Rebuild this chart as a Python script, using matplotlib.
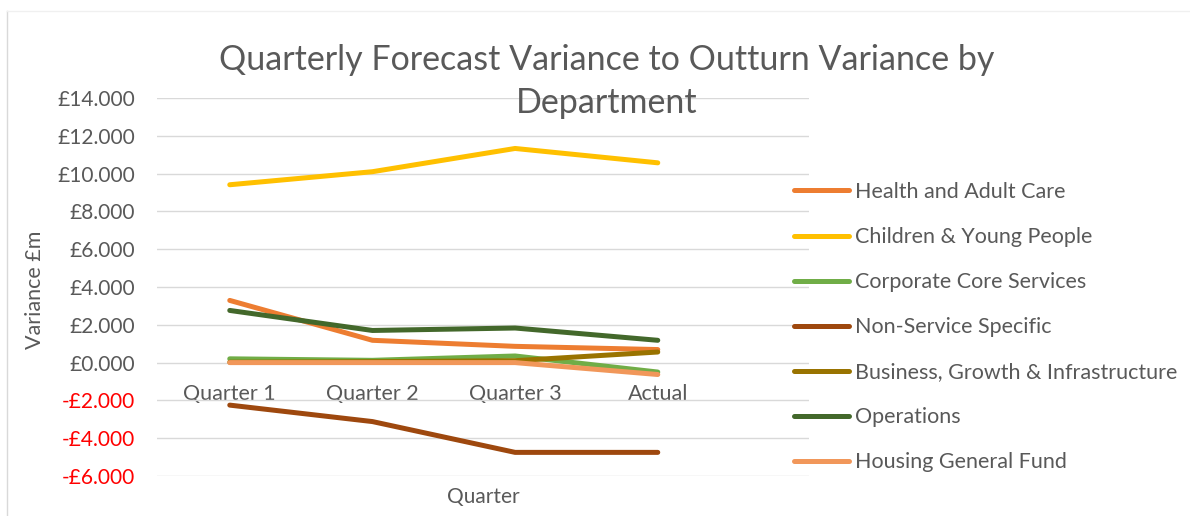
import matplotlib.pyplot as plt
from matplotlib.lines import Line2D
from matplotlib.ticker import FuncFormatter

quarters = ["Quarter 1", "Quarter 2", "Quarter 3", "Actual"]
health = [3.29, 1.18, 0.86, 0.69]
children = [9.41, 10.10, 11.33, 10.57]
corporate = [0.20, 0.12, 0.35, -0.50]
non_service = [-2.25, -3.12, -4.75, -4.75]
business = [0.02, 0.05, 0.10, 0.56]
operations = [2.76, 1.70, 1.83, 1.18]
housing = [0.0, 0.0, 0.0, -0.63]

series = [
    ("Health and Adult Care", health, "#ED7D31"),
    ("Children & Young People", children, "#FFC000"),
    ("Corporate Core Services", corporate, "#70AD47"),
    ("Non-Service Specific", non_service, "#9E480E"),
    ("Business, Growth & Infrastructure", business, "#997300"),
    ("Operations", operations, "#43682B"),
    ("Housing General Fund", housing, "#F1975A"),
]

plt.rcParams['font.family'] = ['Lato', 'DejaVu Sans']
grey = "#595959"

W, H = 1190, 516
fig = plt.figure(figsize=(W / 100, H / 100), dpi=100)
ax = fig.add_axes([157 / W, (H - 476) / H, (809 - 157) / W, (476 - 98) / H])

x = range(len(quarters))
for name, vals, col in series:
    ax.plot(x, vals, color=col, lw=3.6, solid_capstyle='round',
            solid_joinstyle='round', label=name)

ax.set_ylim(-6, 14)
ax.set_xlim(-0.51, 4.06)
ax.set_yticks(range(-6, 15, 2))
ax.yaxis.set_major_formatter(FuncFormatter(
    lambda v, p: ("-£%.3f" % abs(v)) if v < 0 else "£%.3f" % v))
ax.grid(axis='y', color="#d9d9d9", lw=1)
ax.set_axisbelow(True)
for s in ax.spines.values():
    s.set_visible(False)
ax.spines['bottom'].set_position(('data', 0))
ax.set_xticks(list(x))
ax.set_xticklabels(quarters)
ax.tick_params(axis='x', length=0, pad=15.5, labelsize=15.5, labelcolor=grey)
ax.tick_params(axis='y', length=0, pad=16, labelsize=15, labelcolor=grey)
for t in ax.get_yticklabels():
    if t.get_text().startswith("-"):
        t.set_color("red")

fig.text(35 / W, 1 - 290 / H, "Variance £m", rotation=90, ha='center',
         va='center', fontsize=15.5, color=grey)
fig.text(483 / W, 1 - 497 / H, "Quarter", ha='center', va='center',
         fontsize=15, color=grey)

fig.text(607 / W, 1 - 60 / H,
         "Quarterly Forecast Variance to Outturn Variance by",
         ha='center', va='center', fontsize=24.5, color=grey)
fig.text(607 / W, 1 - 103 / H, "Department",
         ha='center', va='center', fontsize=24.5, color=grey)

leg = ax.legend(loc='upper left', bbox_to_anchor=(794 / W, 1 - 182 / H),
                bbox_transform=fig.transFigure, frameon=False, fontsize=15.5,
                handlelength=2.56, handletextpad=0.28, labelspacing=1.165,
                borderpad=0, borderaxespad=0)
for t in leg.get_texts():
    t.set_color(grey)

# chart area frame
fig.add_artist(Line2D([7 / W, 7 / W], [0, 1 - 11 / H], color="#d9d9d9",
                      lw=1, transform=fig.transFigure))
fig.add_artist(Line2D([7 / W, 1], [1 - 11 / H, 1 - 11 / H], color="#f0f0f0",
                      lw=1, transform=fig.transFigure))

fig.savefig("out.png", dpi=100)
